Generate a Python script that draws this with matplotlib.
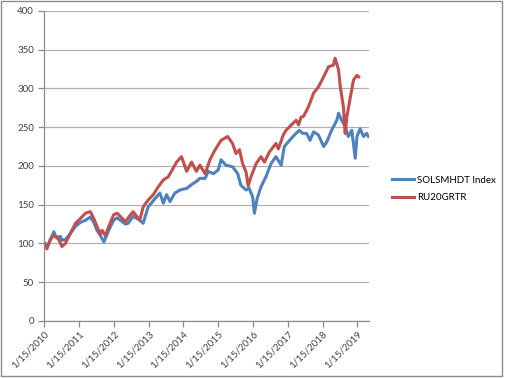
import pandas as pd
import matplotlib
matplotlib.use('Agg')
import matplotlib.pyplot as plt
from matplotlib.patches import Rectangle

# dates as decimal years
sol_years = [2010.05, 2010.11, 2010.21, 2010.31, 2010.37, 2010.50, 2010.54, 2010.64, 2010.74, 2010.93,
             2011.07, 2011.22, 2011.36, 2011.46, 2011.55, 2011.65, 2011.75, 2011.89, 2012.03, 2012.13,
             2012.22, 2012.37, 2012.45, 2012.59, 2012.78, 2012.88, 2013.02, 2013.22, 2013.36, 2013.46,
             2013.55, 2013.65, 2013.79, 2013.94, 2014.13, 2014.27, 2014.41, 2014.51, 2014.66, 2014.75,
             2014.90, 2015.04, 2015.12, 2015.26, 2015.45, 2015.60, 2015.69, 2015.84, 2015.93, 2016.03,
             2016.08, 2016.16, 2016.27, 2016.41, 2016.56, 2016.70, 2016.85, 2016.94, 2017.09, 2017.23,
             2017.37, 2017.47, 2017.58, 2017.68, 2017.78, 2017.92, 2018.07, 2018.16, 2018.30, 2018.45,
             2018.50, 2018.59, 2018.69, 2018.78, 2018.88, 2018.98, 2019.03, 2019.12, 2019.22, 2019.31,
             2019.36]
sol_vals = [100, 95, 105, 115, 108, 109, 104, 105, 110, 122,
            127, 130, 134, 127, 117, 110, 102, 117, 130, 133,
            130, 125, 126, 135, 130, 126, 147, 158, 165, 152,
            163, 154, 165, 169, 171, 176, 180, 184, 184, 193,
            190, 195, 208, 201, 199, 190, 175, 169, 171, 160,
            139, 158, 173, 186, 203, 212, 201, 225, 233, 240,
            246, 242, 242, 233, 244, 240, 225, 231, 246, 259,
            268, 259, 251, 238, 246, 210, 238, 248, 238, 242,
            238]

ru_years = [2010.05, 2010.11, 2010.21, 2010.31, 2010.45, 2010.54, 2010.64, 2010.74, 2010.93, 2011.07,
            2011.22, 2011.36, 2011.46, 2011.55, 2011.65, 2011.70, 2011.79, 2011.89, 2012.03, 2012.13,
            2012.22, 2012.37, 2012.45, 2012.59, 2012.78, 2012.88, 2013.02, 2013.17, 2013.31, 2013.46,
            2013.60, 2013.69, 2013.84, 2013.98, 2014.13, 2014.27, 2014.41, 2014.51, 2014.66, 2014.80,
            2014.95, 2015.12, 2015.31, 2015.45, 2015.55, 2015.65, 2015.74, 2015.84, 2015.90, 2015.98,
            2016.13, 2016.27, 2016.37, 2016.51, 2016.70, 2016.77, 2016.91, 2016.99, 2017.14, 2017.28,
            2017.35, 2017.42, 2017.49, 2017.63, 2017.78, 2017.92, 2018.07, 2018.21, 2018.35, 2018.40,
            2018.50, 2018.55, 2018.64, 2018.69, 2018.74, 2018.84, 2018.93, 2019.03, 2019.08]
ru_vals = [100, 93, 105, 111, 105, 96, 100, 109, 126, 132,
           139, 141, 132, 122, 112, 117, 110, 122, 137, 139,
           135, 128, 133, 141, 130, 147, 156, 163, 173, 182,
           186, 193, 205, 212, 193, 205, 193, 201, 190, 208,
           221, 233, 238, 229, 216, 221, 203, 192, 174, 186,
           203, 212, 205, 218, 229, 222, 240, 246, 253, 259,
           253, 263, 264, 276, 294, 302, 315, 328, 330, 339,
           324, 302, 276, 242, 264, 289, 311, 317, 315]

tick_years = list(range(2010, 2020))
tick_labels = [f'1/15/{y}' for y in tick_years]


def to_date(y):
    yr = int(y)
    return pd.Timestamp(yr, 1, 1) + pd.Timedelta(days=(y - yr) * 365.25)


plt.rcParams['font.family'] = ['Lato', 'DejaVu Sans']

fig = plt.figure(figsize=(5.05, 3.78), dpi=100)
ax = fig.add_axes([0.088, 0.151, 0.643, 0.820])

ax.plot([to_date(y) for y in sol_years], sol_vals, color='#4F81BD', lw=2.2, label='SOLSMHDT Index')
ax.plot([to_date(y) for y in ru_years], ru_vals, color='#C0504D', lw=2.2, label='RU20GRTR')

ax.set_ylim(0, 400)
ax.set_yticks(range(0, 401, 50))
ax.set_xlim(pd.Timestamp(2010, 1, 15), pd.Timestamp(2019, 5, 20))
ax.set_xticks([pd.Timestamp(y, 1, 15) for y in tick_years])
ax.set_xticklabels(tick_labels, rotation=45, ha='right', rotation_mode='anchor')
ax.grid(axis='y', color='#B0B0B0', lw=0.9)
ax.set_axisbelow(True)

for s in ['top', 'right']:
    ax.spines[s].set_visible(False)
for s in ['left', 'bottom']:
    ax.spines[s].set_color('#8C8C8C')
    ax.spines[s].set_linewidth(0.9)
ax.tick_params(axis='both', colors='#8C8C8C', length=4, width=0.9, labelsize=7, labelcolor='#404040')
ax.tick_params(axis='x', pad=2)

ax.legend(loc='center left', bbox_to_anchor=(0.777, 0.5), bbox_transform=fig.transFigure,
          frameon=False, fontsize=7, handlelength=2.2, handletextpad=0.35,
          labelspacing=0.85, borderpad=0, borderaxespad=0)

fig.patches.append(Rectangle((0.001, 0.004), 0.994, 0.994, transform=fig.transFigure,
                             fill=False, edgecolor='#8C8C8C', lw=1))

fig.savefig('out.png', dpi=100)
